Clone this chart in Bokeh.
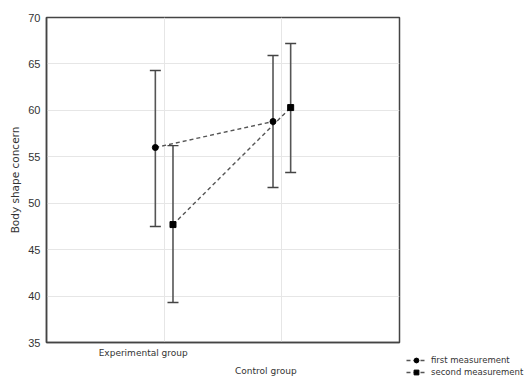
from bokeh.plotting import figure
from bokeh.layouts import row, column
from bokeh.models import (ColumnDataSource, Whisker, TeeHead, Legend, LegendItem,
                          FixedTicker, Range1d, LinearAxis)
from bokeh.embed import file_html
from bokeh.resources import INLINE

groups = ["Experimental group", "Control group"]
group_pos = [1, 2]
first_mean = [56.0, 58.8]
first_upper = [64.3, 65.9]
first_lower = [47.5, 51.7]
second_mean = [47.7, 60.3]
second_upper = [56.2, 67.2]
second_lower = [39.3, 53.3]
y_ticks = [35, 40, 45, 50, 55, 60, 65, 70]
series_names = ["first measurement", "second measurement"]

offset = 0.075
x1 = [g - offset for g in group_pos]
x2 = [g + offset for g in group_pos]

FONT = "DejaVu Sans"
GREY = "#333333"

p = figure(width=401, height=378, output_backend="svg", toolbar_location=None,
           x_range=Range1d(0, 3), y_range=Range1d(35, 70), x_axis_location=None,
           min_border_left=46, min_border_right=2, min_border_top=17, min_border_bottom=34)

p.outline_line_color = "#444444"
p.outline_line_width = 1.5

# staggered category labels as two stacked bottom axes
frame_px_per_unit = 353 / 3.0
label_shift_px = [-21, -16]
label_pos = [g + s / frame_px_per_unit for g, s in zip(group_pos, label_shift_px)]
for i in range(2):
    ax = LinearAxis(ticker=FixedTicker(ticks=[label_pos[i]]),
                    major_label_overrides={label_pos[i]: groups[i]})
    ax.major_tick_line_color = None
    ax.minor_tick_line_color = None
    ax.major_tick_out = 0
    ax.major_tick_in = 0
    ax.major_label_standoff = 5
    ax.major_label_text_font = FONT
    ax.major_label_text_font_size = "9px"
    ax.major_label_text_color = GREY
    ax.axis_line_color = "#444444" if i == 0 else None
    ax.axis_line_width = 1.5
    p.add_layout(ax, "below")

p.yaxis.ticker = FixedTicker(ticks=y_ticks)
p.yaxis.major_tick_line_color = None
p.yaxis.minor_tick_line_color = None
p.yaxis.major_tick_out = 0
p.yaxis.major_tick_in = 0
p.yaxis.axis_line_color = "#444444"
p.yaxis.axis_line_width = 1.5
p.yaxis.major_label_text_font = "Liberation Sans"
p.yaxis.major_label_text_font_size = "11px"
p.yaxis.major_label_text_color = GREY
p.yaxis.major_label_standoff = 6
p.yaxis.axis_label = "Body shape concern"
p.yaxis.axis_label_text_font = FONT
p.yaxis.axis_label_text_font_size = "10.5px"
p.yaxis.axis_label_text_font_style = "normal"
p.yaxis.axis_label_text_color = GREY
p.yaxis.axis_label_standoff = 4

p.xgrid.grid_line_color = "#e6e6e6"
p.ygrid.grid_line_color = "#e6e6e6"
p.xgrid.ticker = FixedTicker(ticks=group_pos)
p.ygrid.ticker = FixedTicker(ticks=y_ticks)

src1 = ColumnDataSource(dict(x=x1, m=first_mean, u=first_upper, l=first_lower))
src2 = ColumnDataSource(dict(x=x2, m=second_mean, u=second_upper, l=second_lower))
for src in (src1, src2):
    w = Whisker(base="x", upper="u", lower="l", source=src, dimension="height",
                line_color="#555555", line_width=1.6,
                upper_head=TeeHead(size=11, line_color="#444444", line_width=1.4),
                lower_head=TeeHead(size=11, line_color="#444444", line_width=1.4))
    p.add_layout(w)

line_style = dict(line_dash="4 3", line_color="#555555", line_width=1.4)
p.line("x", "m", source=src1, **line_style)
p.line("x", "m", source=src2, **line_style)
p.scatter("x", "m", source=src1, marker="circle", size=6, color="black")
p.scatter("x", "m", source=src2, marker="square", size=6, color="black")

# legend panel to the right, below the frame level
p2 = figure(width=129, height=378, output_backend="svg", toolbar_location=None,
            x_range=Range1d(0, 1), y_range=Range1d(0, 1),
            min_border=0, outline_line_color=None)
p2.axis.visible = False
p2.grid.visible = False
nan = float("nan")
hidden = ColumnDataSource(dict(x=[nan], y=[nan]))
bar_style = dict(marker="line", size=12, angle=1.5708, line_color="#444444", line_width=1.2)
lg1 = p2.line("x", "y", source=hidden, **line_style)
lb1 = p2.scatter("x", "y", source=hidden, **bar_style)
lm1 = p2.scatter("x", "y", source=hidden, marker="circle", size=6, color="black")
lg2 = p2.line("x", "y", source=hidden, **line_style)
lb2 = p2.scatter("x", "y", source=hidden, **bar_style)
lm2 = p2.scatter("x", "y", source=hidden, marker="square", size=6, color="black")
legend = Legend(items=[LegendItem(label=series_names[0], renderers=[lg1, lb1, lm1]),
                       LegendItem(label=series_names[1], renderers=[lg2, lb2, lm2])],
                location=(5, 0), padding=0, margin=0, spacing=0,
                glyph_width=20, glyph_height=12, label_height=12, label_standoff=5,
                label_text_font=FONT, label_text_font_size="8.5px",
                label_text_color=GREY, border_line_color=None,
                background_fill_alpha=0)
p2.add_layout(legend)

open("out.html", "w").write(file_html(row(p, column(p2)), INLINE))
